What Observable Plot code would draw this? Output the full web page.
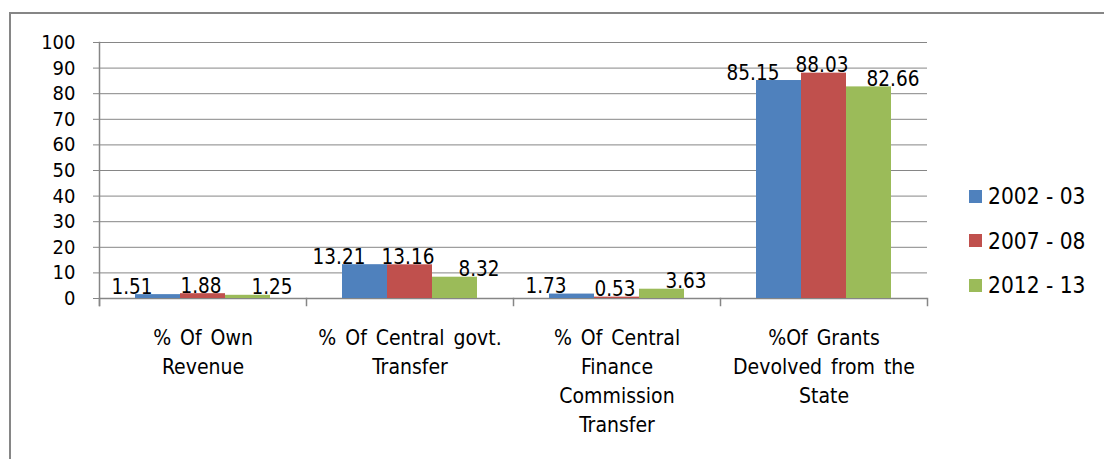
<!DOCTYPE html>
<html>
<head>
<meta charset="utf-8">
<script src="https://cdn.jsdelivr.net/npm/d3@7"></script>
<script src="https://cdn.jsdelivr.net/npm/@observablehq/plot@0.6"></script>
<style>
  html, body { margin: 0; padding: 0; background: #fff; }
  #wrap { position: relative; width: 1104px; height: 459px; overflow: hidden; font-family: "DejaVu Sans Condensed", "DejaVu Sans", sans-serif; }
  #border { position: absolute; left: 9px; top: 12px; width: 1200px; height: 600px; border-top: 2px solid #868686; border-left: 2px solid #868686; pointer-events: none; }
  #legend { position: absolute; left: 969px; top: 174px; font-size: 22.5px; color: #000; white-space: pre; }
  .item { display: flex; align-items: center; height: 44.5px; }
  .sw { width: 13px; height: 13px; margin-right: 6px; }
  svg { position: absolute; left: 0; top: 0; }
  g[aria-label="fx-axis tick label"] text { word-spacing: 3px; }
</style>
</head>
<body>
<div id="wrap"><div id="border"></div><div id="legend"></div></div>
<script>
const categories = [
  "% Of Own\nRevenue",
  "% Of Central govt.\nTransfer",
  "% Of Central\nFinance\nCommission\nTransfer",
  "%Of Grants\nDevolved from the\nState"
];
const series = ["2002 - 03", "2007 - 08", "2012 - 13"];
const values2002 = [1.51, 13.21, 1.73, 85.15];
const values2007 = [1.88, 13.16, 0.53, 88.03];
const values2012 = [1.25, 8.32, 3.63, 82.66];
const yTicks = [0, 10, 20, 30, 40, 50, 60, 70, 80, 90, 100];
const colors = ["#4F81BD", "#C0504D", "#9BBB59"];

const seriesValues = [values2002, values2007, values2012];
const data = [];
categories.forEach((c, i) => {
  series.forEach((s, j) => data.push({category: c, series: s, value: seriesValues[j][i]}));
});

const font = "'DejaVu Sans Condensed', 'DejaVu Sans', sans-serif";
const gray = "#868686";
const labelDx = [-26, -2, 24];

const chart = Plot.plot({
  width: 1104,
  height: 459,
  marginLeft: 97,
  marginRight: 176,
  marginTop: 42,
  marginBottom: 161,
  style: {fontFamily: font, fontSize: "20px", color: "#000", background: "transparent", overflow: "visible"},
  fx: {domain: categories, paddingInner: 0, paddingOuter: 0, label: null},
  x: {domain: series, paddingInner: 0, paddingOuter: 0.758, axis: null},
  y: {domain: [0, 100], label: null},
  color: {domain: series, range: colors},
  marks: [
    Plot.gridY(yTicks, {stroke: gray, strokeOpacity: 1, strokeWidth: 1}),
    Plot.axisY(yTicks, {tickSize: 6, tickPadding: 18, stroke: gray, strokeOpacity: 1, label: null, fontSize: 20, fill: "#000"}),
    Plot.frame({anchor: "left", facetAnchor: "left", stroke: gray, strokeWidth: 1.5, insetBottom: -7}),
    Plot.frame({anchor: "left", stroke: gray, strokeWidth: 1.5, insetTop: 256, insetBottom: -7}),
    Plot.frame({anchor: "right", facetAnchor: "right", stroke: gray, strokeWidth: 1.5, insetTop: 256, insetBottom: -7}),
    Plot.ruleY([0], {stroke: gray, strokeWidth: 1.5}),
    Plot.barY(data, {fx: "category", x: "series", y: "value", fill: "series"}),
    ...series.map((s, j) => Plot.text(data.filter(d => d.series === s), {
      fx: "category", x: "series", y: "value",
      text: d => d.value.toFixed(2),
      lineAnchor: "bottom", dy: -1, dx: labelDx[j],
      fill: "#000", fontSize: 20.5
    })),
    Plot.axisFx({anchor: "bottom", tickSize: 0, tickPadding: 26, lineHeight: 1.38, label: null, fontSize: 21, fill: "#000"})
  ]
});
document.getElementById("wrap").prepend(chart);

const legend = document.getElementById("legend");
series.forEach((s, j) => {
  const it = document.createElement("div");
  it.className = "item";
  const sw = document.createElement("div");
  sw.className = "sw";
  sw.style.background = colors[j];
  const t = document.createElement("span");
  t.textContent = s;
  it.appendChild(sw);
  it.appendChild(t);
  legend.appendChild(it);
});
</script>
</body>
</html>
